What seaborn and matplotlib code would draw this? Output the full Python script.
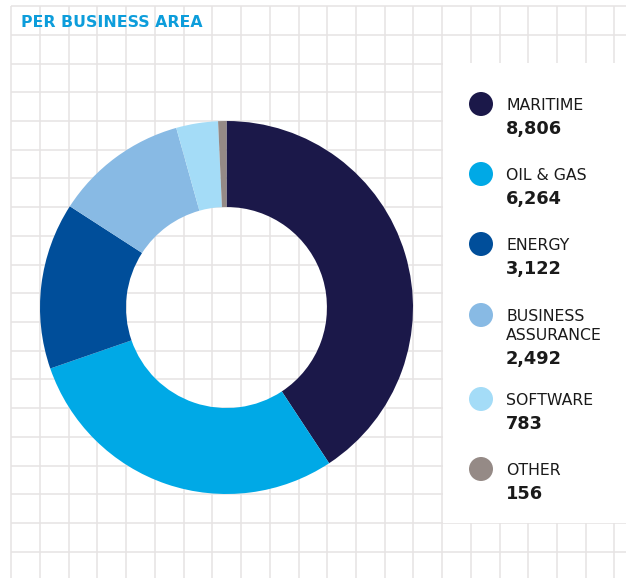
import matplotlib
matplotlib.use("Agg")
import matplotlib.pyplot as plt
from matplotlib.patches import Rectangle, Circle
import seaborn as sns

# Headcount per business area
categories = ["MARITIME", "OIL & GAS", "ENERGY", "BUSINESS\nASSURANCE", "SOFTWARE", "OTHER"]
values = [8806, 6264, 3122, 2492, 783, 156]
value_labels = ["8,806", "6,264", "3,122", "2,492", "783", "156"]
colors_hex = ["#1b1849", "#00a9e6", "#004e9a", "#88bae4", "#a4dcf7", "#958a86"]
title = "PER BUSINESS AREA"

sns.set_theme(style="white")
plt.rcParams["font.family"] = ["DejaVu Sans"]
palette = sns.color_palette(colors_hex)

W, H = 626, 578
fig = plt.figure(figsize=(W / 100, H / 100), dpi=100)
ax = fig.add_axes([0, 0, 1, 1])


def Y(y):
    """Convert a top-down pixel row into the axes' bottom-up coordinate."""
    return H - y


# Background grid paper
grid_color = "#e6e3e3"
step = 28.72
x0, y0 = 11.3, 6.1
gx = [x0 + k * step for k in range(22)]
gy = [y0 + k * step for k in range(20)]
ax.vlines(gx, 0, Y(y0), color=grid_color, lw=1.1, zorder=0)
ax.hlines([Y(v) for v in gy], x0, W, color=grid_color, lw=1.1, zorder=0)

# White panel behind the legend
ax.add_patch(Rectangle((443, Y(523)), W - 443, 523 - 63, facecolor="white",
                       edgecolor="none", zorder=1))

# Donut
ax.pie(values, colors=palette, startangle=90, counterclock=False,
       center=(226.5, Y(307.5)), radius=186.5,
       wedgeprops=dict(width=86, linewidth=0, edgecolor="none"),
       frame=True)

# Title
ax.text(21, Y(27), title, color="#0d9ddb", fontsize=11.3, fontweight="bold",
        ha="left", va="baseline", zorder=3)

# Legend
dark = "#1a1a1a"
label_base = [110, 180, 250, 321, 405, 475]
for cat, vl, col, yb in zip(categories, value_labels, palette, label_base):
    ax.add_patch(Circle((481, Y(yb - 6)), 12, facecolor=col, edgecolor="none", zorder=3))
    lines = cat.split("\n")
    for i, line in enumerate(lines):
        ax.text(506, Y(yb + 19 * i), line, color=dark, fontsize=11.3,
                ha="left", va="baseline", zorder=3)
    ax.text(506, Y(yb + 19 * (len(lines) - 1) + 24), vl, color=dark, fontsize=12.8,
            fontweight="bold", ha="left", va="baseline", zorder=3)

ax.set_xlim(0, W)
ax.set_ylim(0, H)
ax.set_aspect("equal")
ax.axis("off")

fig.savefig("out.png", dpi=100, facecolor="white")
